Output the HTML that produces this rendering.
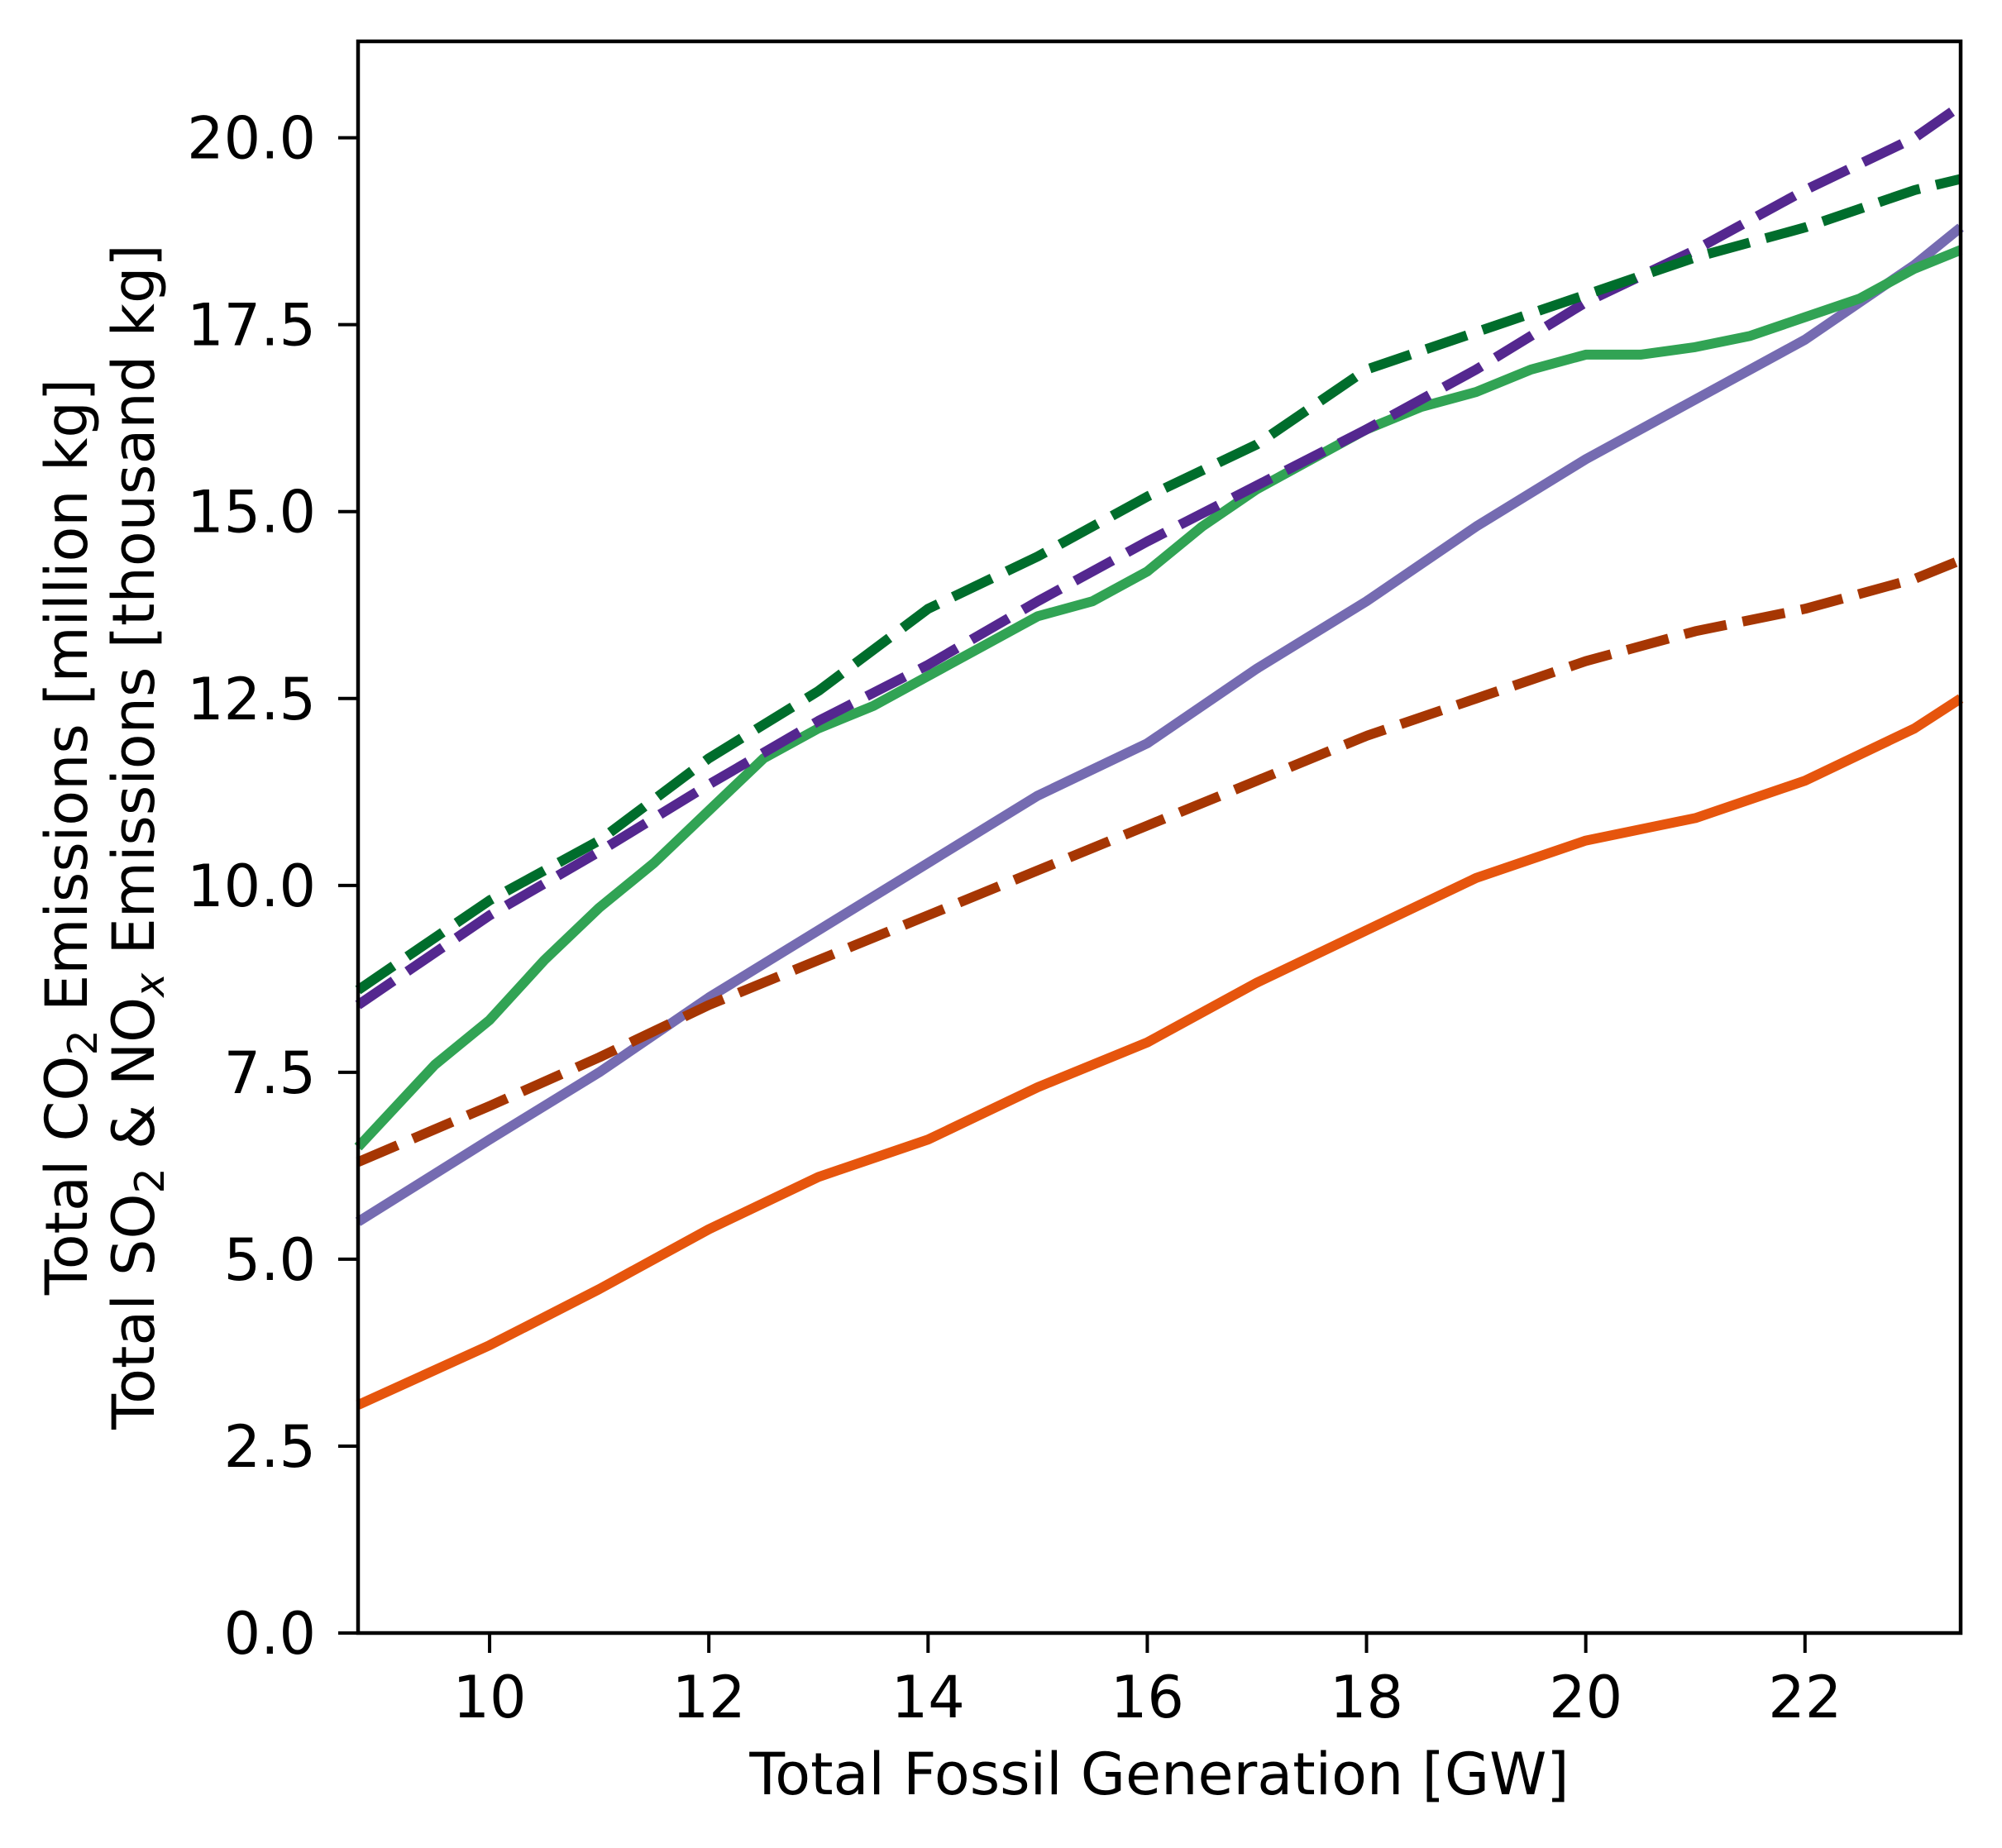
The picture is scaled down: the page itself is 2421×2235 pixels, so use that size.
<!DOCTYPE html>
<html><head><meta charset="utf-8"><style>
html,body{margin:0;padding:0;background:#fff}
svg{display:block}
text{font-family:"DejaVu Sans","Liberation Sans",sans-serif;fill:#000}
</style></head><body>
<svg id="chart" width="2421" height="2235" viewBox="0 0 2421 2235" xmlns="http://www.w3.org/2000/svg">
<rect x="0" y="0" width="2421" height="2235" fill="#fff"/>
<g id="series"></g>
<g id="axes"></g>
<rect x="433" y="50" width="1938" height="1925" fill="none" stroke="#000" stroke-width="4.5"/>
<text x="1402" y="2170" font-size="70" text-anchor="middle">Total Fossil Generation [GW]</text>
<g transform="translate(105,1012) rotate(-90)">
<text x="0" y="0" font-size="70" text-anchor="middle">Total CO<tspan font-size="49" dy="12">2</tspan><tspan dy="-12"> Emissions [million kg]</tspan></text>
</g>
<g transform="translate(186,1012) rotate(-90)">
<text x="0" y="0" font-size="70" text-anchor="middle">Total SO<tspan font-size="49" dy="12">2</tspan><tspan dy="-12"> &amp; NO</tspan><tspan font-size="49" dy="12" font-style="italic">x</tspan><tspan dy="-12"> Emissions [thousand kg]</tspan></text>
</g>
</svg>
<script>
const xTicks = [10, 12, 14, 16, 18, 20, 22];
const yTicks = [0, 2.5, 5, 7.5, 10, 12.5, 15, 17.5, 20];
const yTickLabels = ["0.0","2.5","5.0","7.5","10.0","12.5","15.0","17.5","20.0"];

const xPurpleDash = [8.8,10,11,12,13,14,15,16,17,18,19,20,21,22,23,23.42];
const yPurpleDash = [8.4,9.6,10.45,11.35,12.2,12.95,13.8,14.6,15.35,16.1,16.9,17.8,18.5,19.3,20.0,20.43];
const xGreenDash = [8.8,10,11,12,13,14,15,16,17,18,19,20,21,22,23,23.42];
const yGreenDash = [8.6,9.8,10.6,11.7,12.6,13.7,14.4,15.2,15.9,16.9,17.4,17.9,18.4,18.8,19.3,19.45];
const xGreen = [8.8,9.5,10,10.5,11,11.5,12,12.5,13,13.5,14,14.5,15,15.5,16,16.5,17,17.5,18,18.5,19,19.5,20,20.5,21,21.5,22,22.5,23,23.42];
const yGreen = [6.5,7.6,8.2,9.0,9.7,10.3,11.0,11.7,12.1,12.4,12.8,13.2,13.6,13.8,14.2,14.8,15.3,15.7,16.1,16.4,16.6,16.9,17.1,17.1,17.2,17.35,17.6,17.85,18.25,18.5];
const xPurple = [8.8,10,11,12,13,14,15,16,17,18,19,20,21,22,23,23.42];
const yPurple = [5.5,6.6,7.5,8.5,9.4,10.3,11.2,11.9,12.9,13.8,14.8,15.7,16.5,17.3,18.3,18.8];
const xBrownDash = [8.8,10,11,12,13,14,15,16,17,18,19,20,21,22,23,23.42];
const yBrownDash = [6.3,7.05,7.7,8.4,9.0,9.6,10.2,10.8,11.4,12.0,12.5,13.0,13.4,13.7,14.1,14.35];
const xOrange = [8.8,10,11,12,13,14,15,16,17,18,19,20,21,22,23,23.42];
const yOrange = [3.05,3.85,4.6,5.4,6.1,6.6,7.3,7.9,8.7,9.4,10.1,10.6,10.9,11.4,12.1,12.5];

const X0=433, X1=2371, Y0=1975, Y1=50;
const xMin=8.80, xMax=23.42, yMin=0, yMax=21.29;
function sx(v){return X0+(v-xMin)/(xMax-xMin)*(X1-X0);}
function sy(v){return Y0-(v-yMin)/(yMax-yMin)*(Y0-Y1);}
const NS="http://www.w3.org/2000/svg";
const series=document.getElementById('series');
const axes=document.getElementById('axes');

function addLine(xs,ys,color,dashed,name){
  const p=document.createElementNS(NS,'path');
  let d='';
  for(let i=0;i<xs.length;i++){d+=(i?'L':'M')+sx(xs[i]).toFixed(1)+','+sy(ys[i]).toFixed(1);}
  p.setAttribute('d',d);
  p.setAttribute('fill','none');
  p.setAttribute('stroke',color);
  p.setAttribute('stroke-width','12');
  p.setAttribute('stroke-linejoin','round');
  if(dashed){p.setAttribute('stroke-dasharray','52 20');}
  
  
  series.appendChild(p);
}
addLine(xOrange,yOrange,'#e6550d',false,'so2-line');
addLine(xPurple,yPurple,'#756bb1',false,'nox-line');
addLine(xGreen,yGreen,'#31a354',false,'co2-line');
addLine(xBrownDash,yBrownDash,'#a63603',true,'so2-dashed-line');
addLine(xPurpleDash,yPurpleDash,'#54278f',true,'nox-dashed-line');
addLine(xGreenDash,yGreenDash,'#006d2c',true,'co2-dashed-line');

xTicks.forEach(function(t){
  const l=document.createElementNS(NS,'line');
  l.setAttribute('x1',sx(t));l.setAttribute('x2',sx(t));
  l.setAttribute('y1',Y0);l.setAttribute('y2',Y0+24);
  l.setAttribute('stroke','#000');l.setAttribute('stroke-width','4');
  
  
  axes.appendChild(l);
  const tx=document.createElementNS(NS,'text');
  tx.setAttribute('x',sx(t));tx.setAttribute('y',2077);
  tx.setAttribute('font-size','70');tx.setAttribute('text-anchor','middle');
  tx.textContent=String(t);
  
  
  axes.appendChild(tx);
});
yTicks.forEach(function(t,i){
  const l=document.createElementNS(NS,'line');
  l.setAttribute('x1',X0-24);l.setAttribute('x2',X0);
  l.setAttribute('y1',sy(t));l.setAttribute('y2',sy(t));
  l.setAttribute('stroke','#000');l.setAttribute('stroke-width','4');
  
  
  axes.appendChild(l);
  const tx=document.createElementNS(NS,'text');
  tx.setAttribute('x',382);tx.setAttribute('y',sy(t)+25);
  tx.setAttribute('font-size','70');tx.setAttribute('text-anchor','end');
  tx.textContent=yTickLabels[i];
  
  
  axes.appendChild(tx);
});
</script>
</body></html>
